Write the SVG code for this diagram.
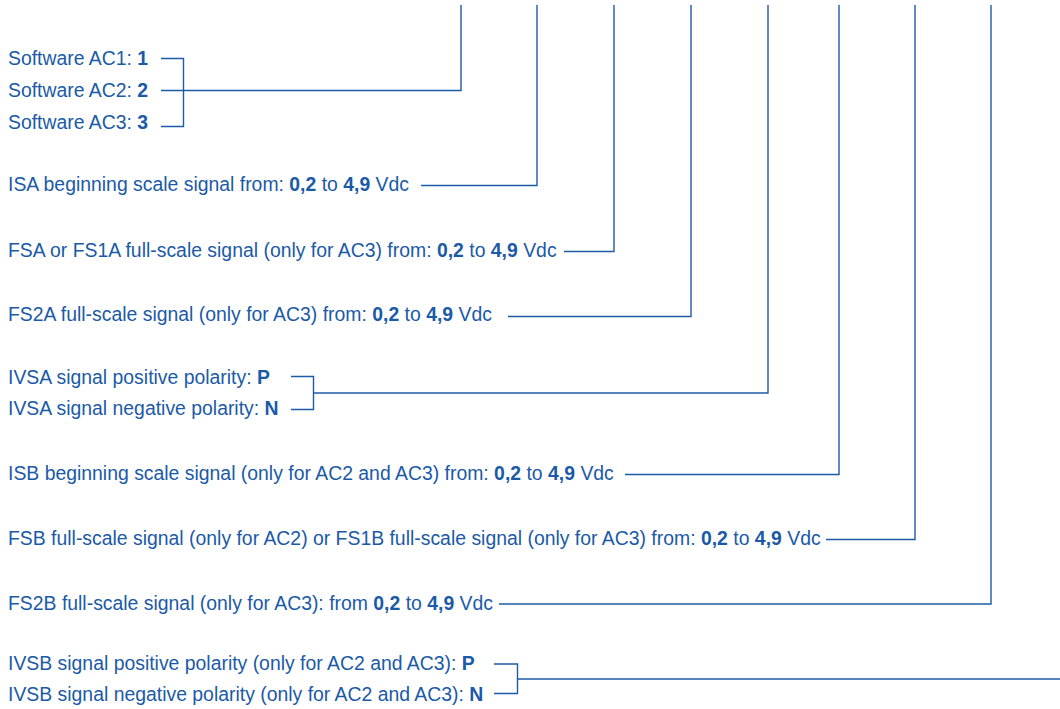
<svg xmlns="http://www.w3.org/2000/svg" width="1060" height="709" viewBox="0 0 1060 709">
<style>
text{font-family:"Liberation Sans",Arial,Helvetica,sans-serif;font-size:19.4px;fill:#1b5aa7}
.b{font-weight:bold}
.c{fill:none;stroke:#1d5ba8;stroke-width:1.4}
</style>
<rect width="1060" height="709" fill="#ffffff"/>
<g id="n-software">
<text x="8" y="65">Software AC1: <tspan class="b">1</tspan></text>
<text x="8" y="97">Software AC2: <tspan class="b">2</tspan></text>
<text x="8" y="129">Software AC3: <tspan class="b">3</tspan></text>
</g>
<g id="n-isa"><text x="8" y="191">ISA beginning scale signal from: <tspan class="b">0,2</tspan> to <tspan class="b">4,9</tspan> Vdc</text></g>
<g id="n-fsa"><text x="8" y="257">FSA or FS1A full-scale signal (only for AC3) from: <tspan class="b">0,2</tspan> to <tspan class="b">4,9</tspan> Vdc</text></g>
<g id="n-fs2a"><text x="8" y="321">FS2A full-scale signal (only for AC3) from: <tspan class="b">0,2</tspan> to <tspan class="b">4,9</tspan> Vdc</text></g>
<g id="n-ivsa">
<text x="8" y="384">IVSA signal positive polarity: <tspan class="b">P</tspan></text>
<text x="8" y="415">IVSA signal negative polarity: <tspan class="b">N</tspan></text>
</g>
<g id="n-isb"><text x="8" y="480">ISB beginning scale signal (only for AC2 and AC3) from: <tspan class="b">0,2</tspan> to <tspan class="b">4,9</tspan> Vdc</text></g>
<g id="n-fsb"><text x="8" y="545">FSB full-scale signal (only for AC2) or FS1B full-scale signal (only for AC3) from: <tspan class="b">0,2</tspan> to <tspan class="b">4,9</tspan> Vdc</text></g>
<g id="n-fs2b"><text x="8" y="610">FS2B full-scale signal (only for AC3): from <tspan class="b">0,2</tspan> to <tspan class="b">4,9</tspan> Vdc</text></g>
<g id="n-ivsb">
<text x="8" y="670">IVSB signal positive polarity (only for AC2 and AC3): <tspan class="b">P</tspan></text>
<text x="8" y="701">IVSB signal negative polarity (only for AC2 and AC3): <tspan class="b">N</tspan></text>
</g>
<g id="connectors" class="c">
<path class="c" d="M161 58.5H183.5V126.5H161M161 90.5H461V5"/>
<path class="c" d="M421 185.5H537V5"/>
<path class="c" d="M564 251.5H614V5"/>
<path class="c" d="M508 316.5H691V5"/>
<path class="c" d="M291 376.5H313.5V409.5H291M313.5 393H768V5"/>
<path class="c" d="M625 474.5H839V5"/>
<path class="c" d="M826 539.5H915V5"/>
<path class="c" d="M499 604H991V5"/>
<path class="c" d="M494 664H517.5V693.5H494M517.5 679H1060"/>
</g>
</svg>
